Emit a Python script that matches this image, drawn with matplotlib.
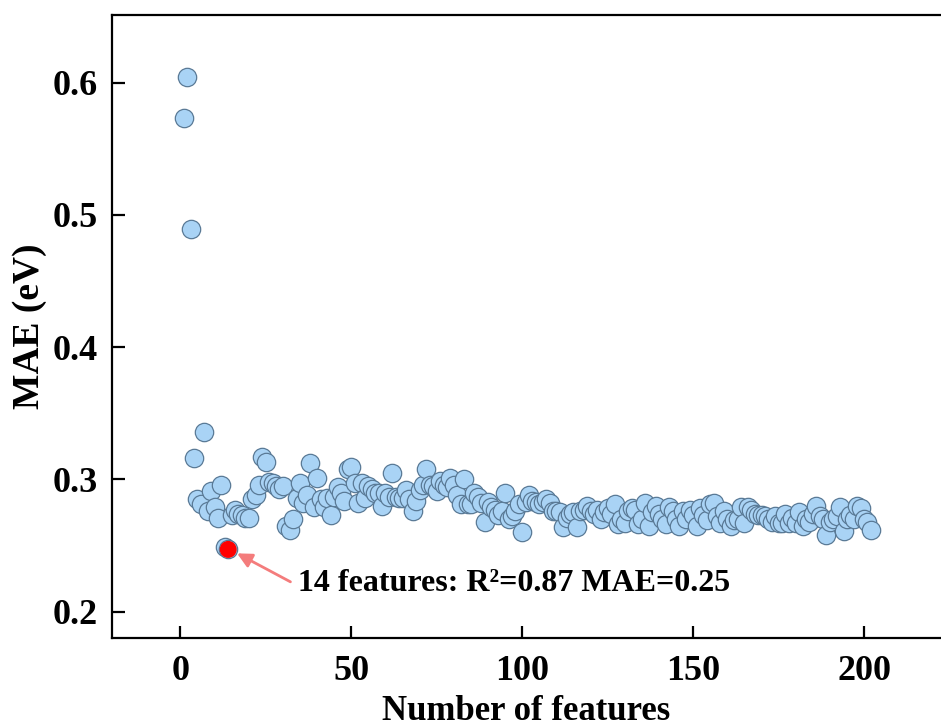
"""MAE versus number of features (feature selection scan)."""

import matplotlib
matplotlib.use("Agg")
import matplotlib.pyplot as plt
import numpy as np

# MAE (eV) for feature counts 1..202
mae = [
    0.573, 0.604, 0.489, 0.316, 0.285, 0.281, 0.336, 0.276, 0.291, 0.279,
    0.271, 0.296, 0.249, 0.247, 0.273, 0.277, 0.274, 0.273, 0.271, 0.271,
    0.285, 0.288, 0.296, 0.317, 0.313, 0.298, 0.297, 0.295, 0.293, 0.295,
    0.265, 0.262, 0.270, 0.286, 0.297, 0.282, 0.288, 0.312, 0.279, 0.301,
    0.285, 0.279, 0.286, 0.273, 0.287, 0.294, 0.290, 0.284, 0.308, 0.309,
    0.297, 0.282, 0.297, 0.286, 0.295, 0.293, 0.290, 0.290, 0.280, 0.290,
    0.287, 0.305, 0.287, 0.286, 0.286, 0.292, 0.285, 0.276, 0.284, 0.292,
    0.296, 0.308, 0.296, 0.295, 0.291, 0.299, 0.296, 0.294, 0.301, 0.296,
    0.288, 0.281, 0.300, 0.281, 0.281, 0.290, 0.287, 0.282, 0.268, 0.283,
    0.279, 0.277, 0.273, 0.276, 0.290, 0.270, 0.272, 0.276, 0.281, 0.260,
    0.283, 0.288, 0.284, 0.283, 0.281, 0.283, 0.285, 0.282, 0.276, 0.276,
    0.275, 0.264, 0.271, 0.274, 0.275, 0.264, 0.276, 0.277, 0.280, 0.276,
    0.274, 0.277, 0.270, 0.275, 0.278, 0.274, 0.281, 0.266, 0.270, 0.267,
    0.276, 0.278, 0.277, 0.266, 0.270, 0.282, 0.265, 0.275, 0.280, 0.274,
    0.270, 0.266, 0.279, 0.276, 0.270, 0.265, 0.276, 0.270, 0.277, 0.273,
    0.265, 0.278, 0.273, 0.269, 0.281, 0.282, 0.272, 0.267, 0.276, 0.270,
    0.265, 0.269, 0.270, 0.279, 0.267, 0.279, 0.277, 0.274, 0.273, 0.273,
    0.272, 0.270, 0.268, 0.272, 0.267, 0.267, 0.274, 0.267, 0.271, 0.267,
    0.275, 0.265, 0.270, 0.268, 0.274, 0.280, 0.272, 0.270, 0.258, 0.268,
    0.270, 0.272, 0.279, 0.261, 0.270, 0.273, 0.270, 0.280, 0.278, 0.270,
    0.268, 0.262,
]
n_features = list(range(1, len(mae) + 1))

best_n = 14
best_mae = 0.247
best_label = "14 features: R²=0.87 MAE=0.25"

x_ticks = [0, 50, 100, 150, 200]
y_ticks = [0.2, 0.3, 0.4, 0.5, 0.6]


def main() -> None:
    plt.rcParams["font.family"] = ["Liberation Serif", "DejaVu Serif"]
    plt.rcParams["font.weight"] = "bold"

    fig = plt.figure(figsize=(9.41, 7.28), dpi=100)
    ax = fig.add_axes([0.119, 0.1236, 0.881, 0.8554])

    ax.scatter(n_features, mae, s=175, c="#a9d3f5", edgecolors="#5a7a96",
               linewidths=0.9, zorder=2)
    ax.scatter([best_n], [best_mae], s=150, c="#ff0000", edgecolors="none",
               zorder=3)

    # arrow + label for the selected subset
    ax.annotate("", xy=(best_n + 0.8, best_mae - 0.0005),
                xytext=(32.2, 0.2225),
                arrowprops=dict(arrowstyle="-|>", color="#f47c7c", lw=2.0,
                                mutation_scale=22, shrinkA=0, shrinkB=5))
    ax.text(34.5, 0.2212, best_label, fontsize=23, fontweight="bold",
            ha="left", va="center")

    ax.set_xlim(-20, 222.5)
    ax.set_ylim(0.180, 0.651)
    ax.set_xticks(x_ticks)
    ax.set_yticks(y_ticks)
    ax.set_yticklabels([f"{v:.1f}" for v in y_ticks])

    ax.tick_params(direction="in", length=9, width=1.6, labelsize=26)
    ax.tick_params(axis="x", pad=12)
    ax.tick_params(axis="y", pad=10)
    for lab in ax.get_xticklabels() + ax.get_yticklabels():
        lab.set_fontweight("bold")

    for side in ("left", "bottom", "top"):
        ax.spines[side].set_linewidth(1.6)
    ax.spines["right"].set_visible(False)

    ax.set_xlabel("Number of features", fontsize=25, fontweight="bold",
                  labelpad=5)
    ax.set_ylabel("MAE (eV)", fontsize=27, fontweight="bold", labelpad=4)

    fig.savefig("out.png", dpi=100)
    plt.close(fig)


if __name__ == "__main__":
    main()
